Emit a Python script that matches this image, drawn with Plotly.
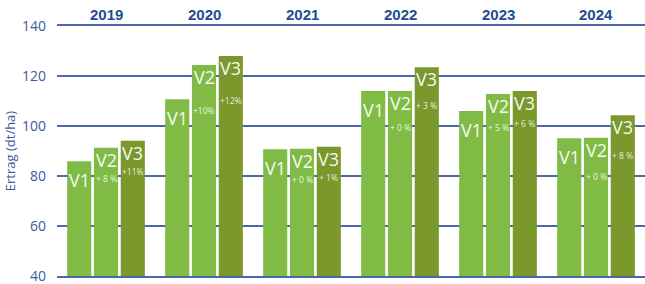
import plotly.graph_objects as go

years = ["2019", "2020", "2021", "2022", "2023", "2024"]
v1 = [85.9, 110.7, 90.7, 114.0, 106.0, 95.1]
v2 = [91.3, 124.4, 90.9, 114.0, 112.8, 95.3]
v3 = [94.1, 128.0, 91.7, 123.5, 114.0, 104.3]
pct_v2 = ["+ 8 %", "+10%", "+ 0 %", "+ 0 %", "+ 5 %", "+ 0 %"]
pct_v3 = ["+11%", "+12%", "+ 1%", "+ 3 %", "+ 6 %", "+ 8 %"]
y_ticks = [40, 60, 80, 100, 120, 140]

# label placement (pixels below bar top)
pct_off_v2 = [31, 45, 31, 36, 33, 39]
pct_off_v3 = [31, 44, 31, 38, 32, 40]

light = "#80bc45"
olive = "#7a982b"
blue_grid = "#4a68aa"
blue_text = "#3a5a9c"
year_blue = "#1f4e8f"

fig = go.Figure()
for name, vals, col in [("V1", v1, light), ("V2", v2, light), ("V3", v3, olive)]:
    fig.add_trace(go.Bar(x=years, y=vals, name=name, marker=dict(color=col, line=dict(width=0)),
                         showlegend=False, hoverinfo="skip"))

slot = 26.8
anns = []
for i, yr in enumerate(years):
    series = [("V1", v1[i], None, None), ("V2", v2[i], pct_v2[i], pct_off_v2[i]), ("V3", v3[i], pct_v3[i], pct_off_v3[i])]
    for j, (lab, val, pct, off) in enumerate(series):
        xs = (j - 1) * slot
        anns.append(dict(x=i, y=val, xref="x", yref="y", text=lab, showarrow=False,
                         xshift=xs, yshift=-(19 if j == 0 else 12), yanchor="middle",
                         font=dict(family="Open Sans", size=18, color="rgba(255,255,255,0.95)")))
        if pct:
            anns.append(dict(x=i, y=val, xref="x", yref="y", text=pct, showarrow=False,
                             xshift=xs, yshift=-off, yanchor="middle",
                             font=dict(family="Open Sans", size=8.5, color="rgba(255,255,255,0.85)")))
    anns.append(dict(x=i, y=1, xref="x", yref="paper", text="<b>" + yr + "</b>", showarrow=False,
                     yanchor="bottom", yshift=1,
                     font=dict(family="Liberation Sans", size=15, color=year_blue)))

fig.update_layout(
    width=645, height=284,
    margin=dict(l=57, r=0, t=26, b=8, autoexpand=False),
    paper_bgcolor="white", plot_bgcolor="white",
    barmode="group", bargap=0.18, bargroupgap=0.1,
    annotations=anns,
    xaxis=dict(showticklabels=False, showgrid=False, zeroline=False,
               showline=True, mirror=True, linecolor=blue_grid, linewidth=1.5,
               range=[-0.5, 5.5], automargin=False),
    yaxis=dict(range=[39.95, 140.05], tickvals=y_ticks, showgrid=True, gridcolor=blue_grid, gridwidth=1.5,
               zeroline=False, showline=False, ticks="", automargin=False, ticklabelstandoff=10,
               ticklabeloverflow="allow",
               tickfont=dict(family="Open Sans", size=14, color=blue_text),
               title=dict(text="Ertrag (dt/ha)", font=dict(family="Open Sans", size=13, color=blue_text),
                          standoff=3)),
)
fig.write_html("out.html", config={"displayModeBar": False},
               post_script="document.body.style.margin='0';document.body.style.overflow='hidden';")
